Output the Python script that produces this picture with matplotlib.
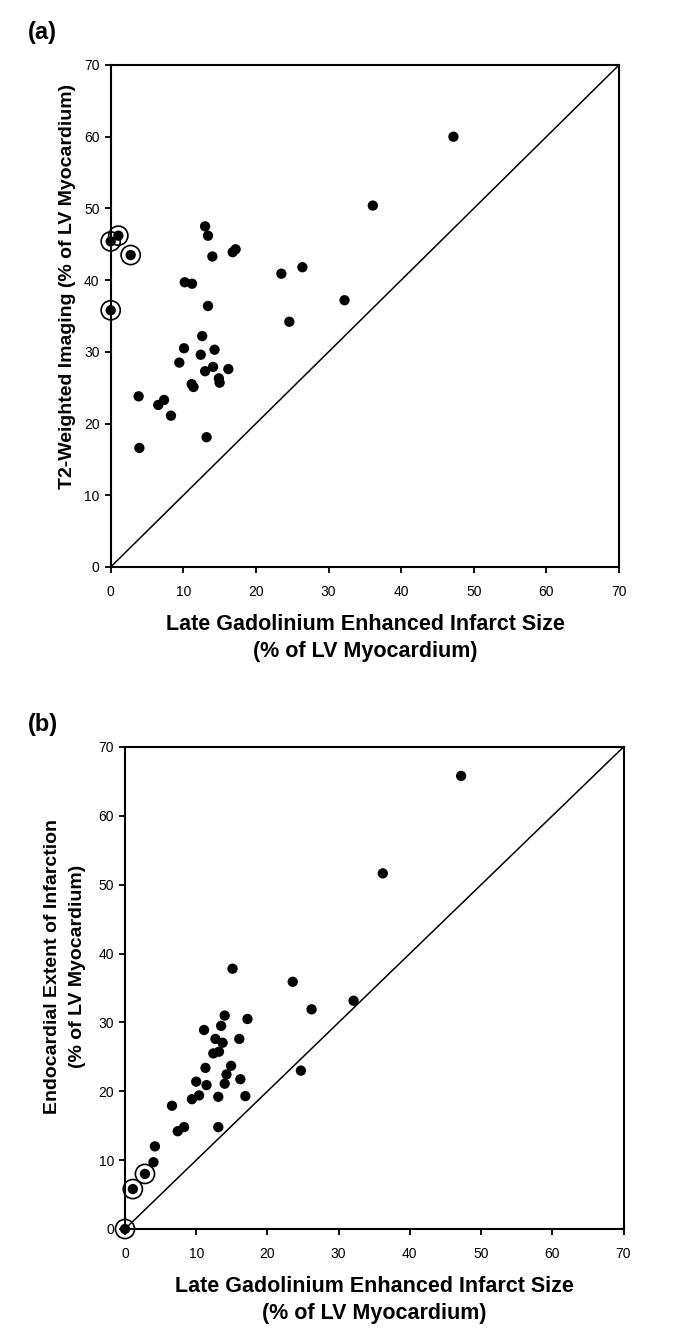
import numpy as np
import matplotlib
matplotlib.use("Agg")
import matplotlib.pyplot as plt

plt.rcParams['font.family'] = ['Liberation Sans', 'DejaVu Sans']

# ---- panel (a): LGE infarct size vs T2-weighted imaging ----
a_lge = [13.0, 13.4, 14.0, 16.8, 17.2, 10.2, 11.2, 23.5, 24.6, 13.4,
         12.6, 10.1, 14.3, 12.4, 9.45, 13.0, 14.1, 16.2, 14.9, 15.0,
         11.15, 11.4, 3.85, 7.35, 6.55, 8.3, 13.2, 3.95, 47.2, 36.1,
         26.4, 32.2]
a_t2 = [47.5, 46.2, 43.3, 43.9, 44.3, 39.7, 39.5, 40.9, 34.2, 36.4,
        32.2, 30.5, 30.3, 29.6, 28.5, 27.3, 27.9, 27.6, 26.3, 25.7,
        25.5, 25.1, 23.8, 23.3, 22.6, 21.1, 18.1, 16.6, 60.0, 50.4,
        41.8, 37.2]
# circled patients (no infarct on LGE)
a_lge_c = [0.0, 1.05, 2.75, 0.0]
a_t2_c = [45.4, 46.2, 43.5, 35.8]

# ---- panel (b): LGE infarct size vs endocardial extent ----
b_lge = [47.2, 36.2, 26.2, 32.1, 15.1, 23.55, 14.0, 17.2, 11.1, 13.5,
         12.7, 13.7, 16.05, 12.4, 13.2, 11.3, 14.9, 14.25, 10.0, 11.45,
         14.0, 16.2, 9.4, 10.4, 13.1, 16.9, 24.7, 6.6, 7.4, 8.3,
         13.1, 4.2, 4.0]
b_endo = [65.8, 51.65, 31.9, 33.15, 37.8, 35.9, 31.0, 30.5, 28.9, 29.5,
          27.6, 27.05, 27.6, 25.5, 25.75, 23.4, 23.7, 22.45, 21.4, 20.9,
          21.1, 21.75, 18.85, 19.4, 19.2, 19.3, 23.0, 17.9, 14.2, 14.8,
          14.8, 12.0, 9.7]
b_lge_c = [0.0, 1.1, 2.8]
b_endo_c = [0.0, 5.8, 8.0]

ticks = [0, 10, 20, 30, 40, 50, 60, 70]

W, H = 685, 1331
fig = plt.figure(figsize=(W / 100, H / 100), dpi=100)


def px_axes(x0, x1, y0, y1):
    # pixel box (left, right, top, bottom) -> figure fraction
    return fig.add_axes([x0 / W, 1 - y1 / H, (x1 - x0) / W, (y1 - y0) / H])


def style(ax):
    ax.set_xlim(0, 70)
    ax.set_ylim(0, 70)
    ax.set_xticks(ticks)
    ax.set_yticks(ticks)
    for s in ax.spines.values():
        s.set_linewidth(1.5)
    ax.tick_params(direction='out', length=4, width=1.3, labelsize=10,
                   top=False, right=False)
    ax.tick_params(axis='x', pad=9)
    ax.tick_params(axis='y', pad=4)
    ax.plot([0, 70], [0, 70], color='black', lw=1.1, zorder=1)


def dots(ax, x, y, xc, yc):
    ax.scatter(x, y, s=55, c='black', edgecolors='none', zorder=3, clip_on=False)
    ax.scatter(xc, yc, s=55, c='black', edgecolors='none', zorder=3, clip_on=False)
    ax.scatter(xc, yc, s=190, facecolors='none', edgecolors='black',
               linewidths=1.2, zorder=3, clip_on=False)


lab = dict(fontsize=15.5, fontweight='bold')
ylab = dict(fontsize=14, fontweight='bold')

ax_a = px_axes(110.7, 619, 65, 567)
style(ax_a)
dots(ax_a, a_lge, a_t2, a_lge_c, a_t2_c)
fig.text(365 / W, 1 - 625 / H, 'Late Gadolinium Enhanced Infarct Size', ha='center', va='center', **lab)
fig.text(365 / W, 1 - 652 / H, '(% of LV Myocardium)', ha='center', va='center', **lab)
fig.text(68 / W, 1 - 286 / H, 'T2-Weighted Imaging (% of LV Myocardium)', rotation=90,
         ha='center', va='center', **ylab)
fig.text(28 / W, 1 - 32 / H, '(a)', ha='left', va='center', fontsize=17, fontweight='bold')

ax_b = px_axes(125, 623.5, 747, 1229)
style(ax_b)
dots(ax_b, b_lge, b_endo, b_lge_c, b_endo_c)
fig.text(374 / W, 1 - 1287 / H, 'Late Gadolinium Enhanced Infarct Size', ha='center', va='center', **lab)
fig.text(374 / W, 1 - 1313 / H, '(% of LV Myocardium)', ha='center', va='center', **lab)
fig.text(53 / W, 1 - 966 / H, 'Endocardial Extent of Infarction', rotation=90,
         ha='center', va='center', **ylab)
fig.text(78 / W, 1 - 966 / H, '(% of LV Myocardium)', rotation=90,
         ha='center', va='center', **ylab)
fig.text(28 / W, 1 - 725 / H, '(b)', ha='left', va='center', fontsize=17, fontweight='bold')

fig.savefig('out.png', dpi=100)
